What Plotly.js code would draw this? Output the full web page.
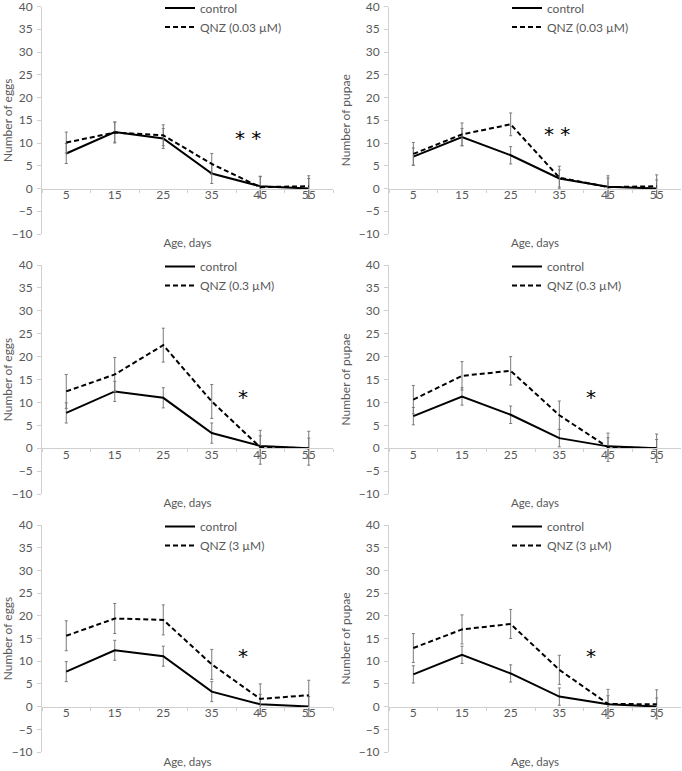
<!DOCTYPE html>
<html>
<head>
<meta charset="utf-8">
<script src="https://cdn.plot.ly/plotly-3.0.1.min.js"></script>
<style>html,body{margin:0;padding:0;background:#fff;}#chart{width:682px;height:771px;}</style>
</head>
<body>
<div id="chart"></div>
<script>
// Categories
const ages = ['5', '15', '25', '35', '45', '55'];

// Panel A: eggs, QNZ 0.03 µM
const eggsCtrlA = [7.7, 12.4, 11.0, 3.3, 0.5, 0.0];
const eggsCtrlErrA = [2.2, 2.2, 2.2, 2.2, 2.2, 2.2];
const eggsQnzA = [10.1, 12.3, 11.7, 5.4, 0.3, 0.5];
const eggsQnzErrA = [2.3, 2.3, 2.3, 2.3, 2.3, 2.3];

// Panel B: pupae, QNZ 0.03 µM
const pupCtrlB = [7.0, 11.3, 7.3, 2.2, 0.4, 0.0];
const pupCtrlErrB = [1.9, 1.9, 1.9, 1.9, 1.9, 1.9];
const pupQnzB = [7.6, 11.9, 14.1, 2.4, 0.3, 0.5];
const pupQnzErrB = [2.5, 2.5, 2.5, 2.5, 2.5, 2.5];

// Panel C: eggs, QNZ 0.3 µM
const eggsCtrlC = [7.7, 12.4, 11.0, 3.3, 0.5, 0.0];
const eggsCtrlErrC = [2.2, 2.2, 2.2, 2.2, 2.2, 2.2];
const eggsQnzC = [12.4, 16.1, 22.5, 10.2, 0.2, 0.0];
const eggsQnzErrC = [3.7, 3.7, 3.7, 3.7, 3.7, 3.7];

// Panel D: pupae, QNZ 0.3 µM
const pupCtrlD = [7.0, 11.3, 7.3, 2.2, 0.4, 0.0];
const pupCtrlErrD = [1.9, 1.9, 1.9, 1.9, 1.9, 1.9];
const pupQnzD = [10.6, 15.8, 16.9, 7.2, 0.2, 0.0];
const pupQnzErrD = [3.1, 3.1, 3.1, 3.1, 3.1, 3.1];

// Panel E: eggs, QNZ 3 µM
const eggsCtrlE = [7.7, 12.4, 11.1, 3.3, 0.5, 0.0];
const eggsCtrlErrE = [2.2, 2.2, 2.2, 2.2, 2.2, 2.2];
const eggsQnzE = [15.6, 19.4, 19.1, 9.3, 1.7, 2.5];
const eggsQnzErrE = [3.3, 3.3, 3.3, 3.3, 3.3, 3.3];

// Panel F: pupae, QNZ 3 µM
const pupCtrlF = [7.1, 11.4, 7.3, 2.2, 0.5, 0.0];
const pupCtrlErrF = [1.9, 1.9, 1.9, 1.9, 1.9, 1.9];
const pupQnzF = [12.9, 17.0, 18.2, 8.1, 0.6, 0.5];
const pupQnzErrF = [3.2, 3.2, 3.2, 3.2, 3.2, 3.2];

// Labels
const qnzLabels = ['QNZ (0.03 µM)', 'QNZ (0.03 µM)', 'QNZ (0.3 µM)', 'QNZ (0.3 µM)', 'QNZ (3 µM)', 'QNZ (3 µM)'];
const yTitles = ['Number of eggs', 'Number of pupae', 'Number of eggs', 'Number of pupae', 'Number of eggs', 'Number of pupae'];
const stars = ['* *', '* *', '*', '*', '*', '*'];
const starPos = [[3.75, 11.0], [2.95, 12.0], [3.65, 11.2], [3.65, 11.2], [3.65, 11.2], [3.65, 11.2]];

const panels = [
  [eggsCtrlA, eggsCtrlErrA, eggsQnzA, eggsQnzErrA],
  [pupCtrlB, pupCtrlErrB, pupQnzB, pupQnzErrB],
  [eggsCtrlC, eggsCtrlErrC, eggsQnzC, eggsQnzErrC],
  [pupCtrlD, pupCtrlErrD, pupQnzD, pupQnzErrD],
  [eggsCtrlE, eggsCtrlErrE, eggsQnzE, eggsQnzErrE],
  [pupCtrlF, pupCtrlErrF, pupQnzF, pupQnzErrF]
];

const W = 682, H = 771;
const FONT = 'Lato, "Open Sans", sans-serif';
const GREY = '#595959';
const AXC = '#d0d0d0';

// pixel frames [left, right, top(40), bottom(-10)]
const colPx = [[42, 333], [389, 681]];
const rowPx = [[6.5, 234], [265, 494], [525, 752]];

const traces = [];
const layout = {
  width: W, height: H,
  margin: {l: 0, r: 0, t: 0, b: 0, pad: 0, autoexpand: false},
  paper_bgcolor: '#fff', plot_bgcolor: 'rgba(0,0,0,0)',
  font: {family: FONT, size: 12, color: GREY},
  showlegend: true,
  annotations: []
};

panels.forEach((p, i) => {
  const n = i + 1;
  const xa = 'x' + (n === 1 ? '' : n);
  const ya = 'y' + (n === 1 ? '' : n);
  const lg = 'legend' + (n === 1 ? '' : n);
  const col = i % 2, row = Math.floor(i / 2);
  const [l, r] = colPx[col];
  const [t, b] = rowPx[row];
  const yd = [1 - b / H, 1 - t / H];
  const xd = [l / W, r / W];
  const zeroPos = yd[0] + (0 - (-10)) / 50 * (yd[1] - yd[0]);

  traces.push({
    x: ages, y: p[0], xaxis: xa, yaxis: ya, legend: lg,
    type: 'scatter', mode: 'lines', name: 'control',
    line: {color: '#000', width: 2},
    error_y: {type: 'data', array: p[1], visible: true, color: '#7a7a7a', thickness: 1, width: 1.5}
  });
  traces.push({
    x: ages, y: p[2], xaxis: xa, yaxis: ya, legend: lg,
    type: 'scatter', mode: 'lines', name: qnzLabels[i],
    line: {color: '#000', width: 2, dash: '5px,3px'},
    error_y: {type: 'data', array: p[3], visible: true, color: '#7a7a7a', thickness: 1, width: 1.5}
  });

  const xKey = 'xaxis' + (n === 1 ? '' : n);
  const yKey = 'yaxis' + (n === 1 ? '' : n);
  layout[xKey] = {
    domain: xd, anchor: 'free', position: zeroPos, type: 'category',
    range: [-0.5, 5.5], tickson: 'boundaries', ticks: 'outside', ticklen: 3,
    tickcolor: AXC, showline: true, linecolor: AXC, linewidth: 1,
    showgrid: false, zeroline: false, fixedrange: true, automargin: false,
    ticklabelstandoff: -5,
    tickfont: {family: FONT, size: 12, color: GREY},
    title: {text: 'Age, days', font: {family: FONT, size: 11.5, color: GREY}, standoff: 38}
  };
  layout[yKey] = {
    domain: yd, anchor: xa, range: [-10, 40], dtick: 5, tick0: 0,
    ticks: 'outside', ticklen: 4, tickcolor: AXC, showline: true, linecolor: AXC,
    linewidth: 1, showgrid: false, zeroline: false, fixedrange: true, automargin: false,
    ticklabelstandoff: 2, ticklabeloverflow: 'allow',
    tickfont: {family: FONT, size: 12, color: GREY},
    title: {text: yTitles[i], font: {family: FONT, size: 12, color: GREY}, standoff: 5}
  };
  layout[lg] = {
    x: (l + 118) / W, xanchor: 'left', y: 1 - (t - 13) / H, yanchor: 'top',
    bgcolor: 'rgba(0,0,0,0)', borderwidth: 0, itemwidth: 30,
    font: {family: FONT, size: 12, color: GREY}, tracegroupgap: 0
  };
  layout.annotations.push({
    xref: xa, yref: ya, x: starPos[i][0], y: starPos[i][1],
    text: stars[i], showarrow: false,
    font: {family: '"DejaVu Sans", sans-serif', size: 20, color: '#000'}
  });
});

Plotly.newPlot('chart', traces, layout, {displayModeBar: false, staticPlot: true});
</script>
</body>
</html>
